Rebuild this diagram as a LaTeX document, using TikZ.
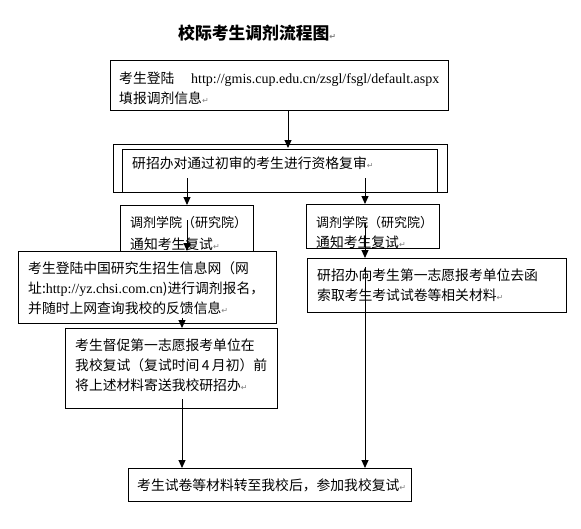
\documentclass[tikz,border=0pt]{standalone}
\usepackage{fontspec}
\setmainfont{Noto Sans CJK SC}
\newfontfamily\urlf{Liberation Serif}
\newfontfamily\djv{DejaVu Sans}
\usetikzlibrary{arrows.meta}
\XeTeXlinebreaklocale "zh"
\XeTeXlinebreakskip=0pt plus 3pt minus 1pt
\newcommand\parmk{{\fontsize{8}{8}\selectfont\djv\textcolor{gray}{↵}}}
\newcommand\jl[2]{\makebox[#1][s]{#2}}
\newcommand\urltxt[1]{{\fontsize{14}{14}\selectfont\urlf #1}}
\begin{document}
\begin{tikzpicture}[x=1pt,y=-1pt,
  box/.style={draw, line width=1pt, fill=white, inner sep=0pt, anchor=north west},
  txt/.style={anchor=base west, inner sep=0pt, font=\fontsize{13.8}{16}\selectfont},
  smalltxt/.style={anchor=base west, inner sep=0pt, font=\fontsize{13}{16}\selectfont},
  arr/.style={line width=1pt, -{Triangle[width=7pt,length=8pt]}}]
\useasboundingbox[fill=white] (0,0) rectangle (581,528);

% column coordinates for connectors
\coordinate (cA) at (288,0);
\coordinate (cL) at (187,0);
\coordinate (cR) at (365,0);
\coordinate (cM) at (182,0);

% title
\node[anchor=base west, inner sep=0pt, font=\fontsize{16.8}{16.8}\selectfont\bfseries] (title) at (178,39) {校际考生调剂流程图\parmk};

% box 1
\node[box, minimum width=338pt, minimum height=50pt] (b1) at (110,60) {};
\node[txt] (t1a) at (119,83) {\jl{63pt}{考生登陆}};
\node[anchor=base west, inner sep=0pt] (t1u) at (191,83) {\urltxt{http://gmis.cup.edu.cn/zsgl/fsgl/default.aspx}};
\node[txt] (t1b) at (119,103) {填报调剂信息\parmk};

% box 2 (double frame)
\node[box, minimum width=334pt, minimum height=48pt] (b2o) at (113,144) {};
\node[box, minimum width=315pt, minimum height=43pt] (b2i) at (122,149) {};
\node[txt] (t2) at (132,168) {研招办对通过初审的考生进行资格复审\parmk};

% box 3 (left)
\node[box, minimum width=133pt, minimum height=46pt] (b3) at (120,205) {};
\node[smalltxt] (t3a) at (130,227) {调剂学院（研究院）};
\node[txt] (t3b) at (130,249) {通知考生复试\parmk};

% box 7 (right)
\node[box, minimum width=133pt, minimum height=44pt] (b7) at (306,204) {};
\node[smalltxt] (t7a) at (316,227) {调剂学院（研究院）};
\begin{scope}
\clip (306,204) rectangle (439,247.5);
\node[txt] (t7b) at (316,247) {通知考生复试\parmk};
\end{scope}

% box 4
\node[box, minimum width=258pt, minimum height=72pt] (b4) at (18,251) {};
\node[txt] (t4a) at (28,273) {\jl{242pt}{考生登陆中国研究生招生信息网（网}};
\node[txt] (t4b) at (28,293) {\jl{240pt}{址:\urltxt{http://yz.chsi.com.cn})进行调剂报名，}};
\node[txt] (t4c) at (28,313) {并随时上网查询我校的反馈信息\parmk};

% box 8
\node[box, minimum width=259pt, minimum height=54pt] (b8) at (307,258) {};
\node[txt] (t8a) at (317,280) {\jl{239pt}{研招办向考生第一志愿报考单位去函}};
\node[txt] (t8b) at (317,300) {索取考生考试试卷等相关材料\parmk};

% box 5
\node[box, minimum width=212pt, minimum height=80pt] (b5) at (65,328) {};
\node[txt] (t5a) at (75,350) {\jl{192pt}{考生督促第一志愿报考单位在}};
\node[txt] (t5b) at (75,370) {\jl{192pt}{我校复试（复试时间 4 月初）前}};
\node[txt] (t5c) at (75,390) {将上述材料寄送我校研招办\parmk};

% box 6
\node[box, minimum width=283pt, minimum height=33pt] (b6) at (128,468) {};
\node[txt] (t6) at (137,490) {考生试卷等材料转至我校后，参加我校复试\parmk};

% connectors
\draw[arr] (b1.south -| cA) -- ([yshift=-4pt]b2o.north -| cA);
\draw[arr] ([yshift=15pt]b2o.south -| cL) -- (b3.north -| cL);
\draw[arr] ([yshift=15pt]b2o.south -| cR) -- (b7.north -| cR);
\draw[arr] ([yshift=-15pt]b3.north -| cL) -- (b4.north -| cL);
\draw[arr] ([yshift=-19pt]b7.north -| cR) -- (b8.north -| cR);
\draw[arr] ([yshift=6pt]b4.south -| cM) -- (b5.north -| cM);
\draw[arr] ([yshift=10pt]b5.south -| cM) -- (b6.north -| cM);
\draw[arr] ([yshift=-9pt]b8.north -| cR) -- (b6.north -| cR);
\end{tikzpicture}
\end{document}
